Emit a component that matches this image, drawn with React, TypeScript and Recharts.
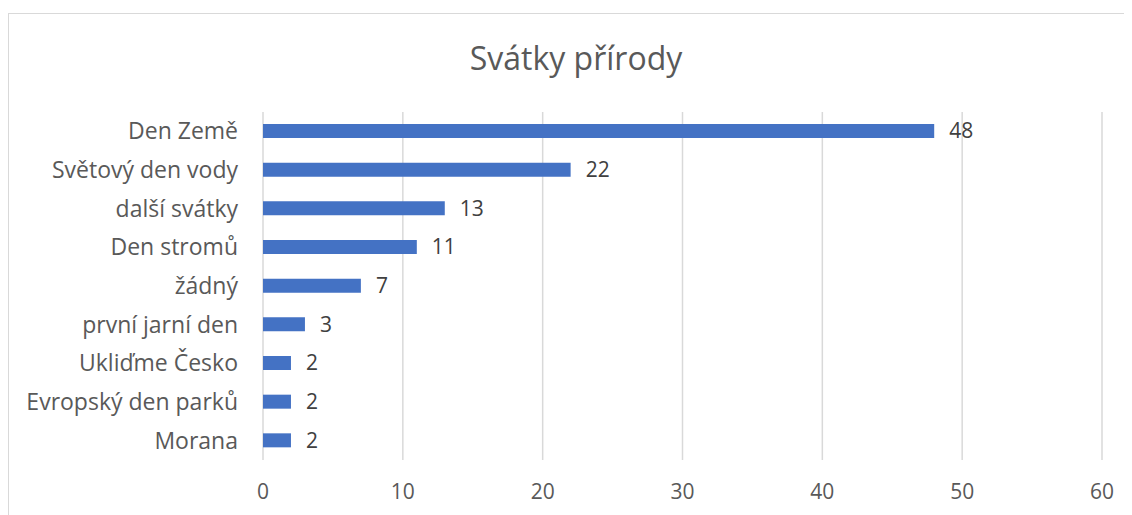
import React from "react"
import { BarChart, Bar, XAxis, YAxis, CartesianGrid, LabelList } from "recharts"

const categories = [
  "Den Země",
  "Světový den vody",
  "další svátky",
  "Den stromů",
  "žádný",
  "první jarní den",
  "Ukliďme Česko",
  "Evropský den parků",
  "Morana",
]
const counts = [48, 22, 13, 11, 7, 3, 2, 2, 2]
const xTicks = [0, 10, 20, 30, 40, 50, 60]

const data = categories.map((name, i) => ({ name, value: counts[i] }))

const font = "'Open Sans', Lato, sans-serif"

export default function App() {
  return (
    <div style={{ position: "relative", width: 1124, height: 507, overflow: "hidden", fontFamily: font }}>
      {/* chart frame, runs off the right and bottom edge like the screenshot */}
      <div
        style={{
          position: "absolute",
          left: 0,
          top: 5,
          width: 1200,
          height: 600,
          border: "1px solid #d9d9d9",
          boxSizing: "border-box",
        }}
      />
      <div
        style={{
          position: "absolute",
          left: 0,
          width: 1136,
          top: 29,
          textAlign: "center",
          fontSize: 32,
          color: "#595959",
          lineHeight: "42px",
        }}
      >
        Svátky přírody
      </div>
      <div style={{ position: "absolute", left: 0, top: 0 }}>
        <BarChart
          width={1124}
          height={507}
          data={data}
          layout="vertical"
          margin={{ top: 104, right: 30, bottom: 0, left: 0 }}
        >
          <CartesianGrid horizontal={false} stroke="#d9d9d9" strokeWidth={1.5} />
          <XAxis
            type="number"
            domain={[0, 60]}
            ticks={xTicks}
            axisLine={false}
            tickLine={false}
            tickSize={0}
            tickMargin={24}
            height={55}
            interval={0}
            tick={{ fill: "#595959", fontSize: 21, fontFamily: font }}
          />
          <YAxis
            type="category"
            dataKey="name"
            width={255}
            axisLine={false}
            tickLine={false}
            tickSize={0}
            tickMargin={25}
            interval={0}
            tick={{ fill: "#595959", fontSize: 23, fontFamily: font }}
          />
          <Bar dataKey="value" fill="#4472C4" barSize={14} isAnimationActive={false}>
            <LabelList
              dataKey="value"
              position="right"
              offset={15}
              fill="#404040"
              fontSize={21}
              fontFamily={font}
            />
          </Bar>
        </BarChart>
      </div>
    </div>
  )
}
